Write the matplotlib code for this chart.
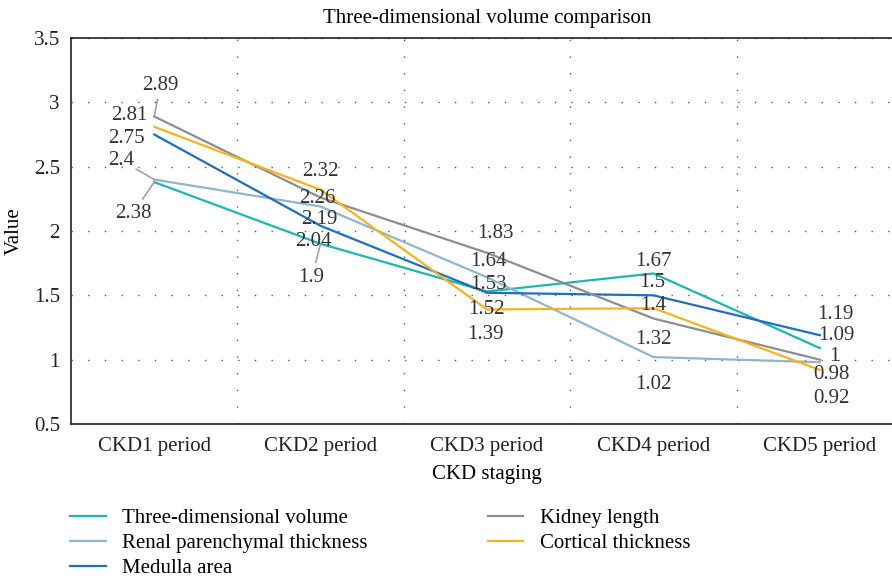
import numpy as np
import matplotlib.pyplot as plt
from matplotlib.ticker import FixedLocator

plt.rcParams['font.family'] = ['Liberation Serif', 'DejaVu Serif']

periodos = ['CKD1 period', 'CKD2 period', 'CKD3 period', 'CKD4 period', 'CKD5 period']

volumen_3d = [2.38, 1.9, 1.53, 1.67, 1.09]
parenquima = [2.4, 2.19, 1.64, 1.02, 0.98]
medula = [2.75, 2.04, 1.52, 1.5, 1.19]
longitud = [2.89, 2.26, 1.83, 1.32, 1.0]
cortical = [2.81, 2.32, 1.39, 1.4, 0.92]

series = [
    ('Three-dimensional volume', volumen_3d, '#1bb8b0'),
    ('Renal parenchymal thickness', parenquima, '#8fb6c9'),
    ('Medulla area', medula, '#1f6ebf'),
    ('Kidney length', longitud, '#8e8e8e'),
    ('Cortical thickness', cortical, '#f8b21d'),
]

# desplazamientos (pixeles) de cada etiqueta respecto a su punto
offsets = {
    'Three-dimensional volume': [(-21, -31), (-9, -34), (1, 7), (0, 12), (17, 13)],
    'Renal parenchymal thickness': [(-33, 19), (-1, -13), (1, 16), (0, -27), (12, -12)],
    'Medulla area': [(-28, -4), (-7, -16), (-1, -17), (-1, 13), (16, 21)],
    'Kidney length': [(6, 31), (-3, -1), (8, 19), (0, -21), (15, 3)],
    'Cortical thickness': [(-25, 11), (0, 18), (-2, -25), (0, 3), (12, -29)],
}
# lineas guia para algunas etiquetas
guias = {
    ('Kidney length', 0): True,
    ('Renal parenchymal thickness', 0): True,
    ('Three-dimensional volume', 0): True,
    ('Three-dimensional volume', 1): True,
}

fig = plt.figure(figsize=(8.92, 5.81), dpi=100)
ax = fig.add_axes([71 / 892, 157 / 581, 832 / 892, 386 / 581])

x = np.arange(len(periodos))
for nombre, valores, color in series:
    ax.plot(x, valores, color=color, linewidth=1.6, label=nombre)
    for i, v in enumerate(valores):
        dx, dy = offsets[nombre][i]
        if (nombre, i) in guias:
            ax.annotate('', xy=(i, v), xytext=(dx * 0.55, dy * 0.55),
                        textcoords='offset pixels',
                        arrowprops=dict(arrowstyle='-', color='#a0a0a0', lw=1.2,
                                        shrinkA=0, shrinkB=0))
        ax.annotate(f'{v:g}', xy=(i, v), xytext=(dx, dy), textcoords='offset pixels',
                    ha='center', va='center', fontsize=15, color='#333333')

ax.set_xlim(-0.5, 4.5)
ax.set_ylim(0.5, 3.5)
ax.set_xticks(x)
ax.set_xticklabels(periodos)
ax.set_yticks([0.5, 1, 1.5, 2, 2.5, 3, 3.5])
ax.set_yticklabels(['0.5', '1', '1.5', '2', '2.5', '3', '3.5'])
ax.xaxis.set_minor_locator(FixedLocator([0.5, 1.5, 2.5, 3.5]))
ax.tick_params(axis='both', which='both', length=0, labelsize=15, colors='#222222')
ax.tick_params(axis='x', pad=9)
ax.tick_params(axis='y', pad=8)

ax.grid(True, axis='y', which='major', color='#555555', linestyle=(0, (1, 11)), linewidth=1)
ax.grid(True, axis='x', which='minor', color='#555555', linestyle=(0, (1, 11)), linewidth=1)
ax.spines['right'].set_visible(False)
for s in ['left', 'top', 'bottom']:
    ax.spines[s].set_linewidth(1.2)
    ax.spines[s].set_color('#222222')

ax.set_xlabel('CKD staging', fontsize=15, labelpad=7)
ax.set_ylabel('Value', fontsize=15, labelpad=7)
fig.text(487 / 892, 1 - 18 / 581, 'Three-dimensional volume comparison',
         ha='center', va='center', fontsize=15)

fig.legend(loc='upper left', bbox_to_anchor=(62 / 892, 1 - 500 / 581), ncol=2,
           frameon=False, fontsize=15, handlelength=1.7, handletextpad=0.8,
           columnspacing=5.75, labelspacing=0.27, borderaxespad=0)

fig.savefig('out.png', dpi=100)
